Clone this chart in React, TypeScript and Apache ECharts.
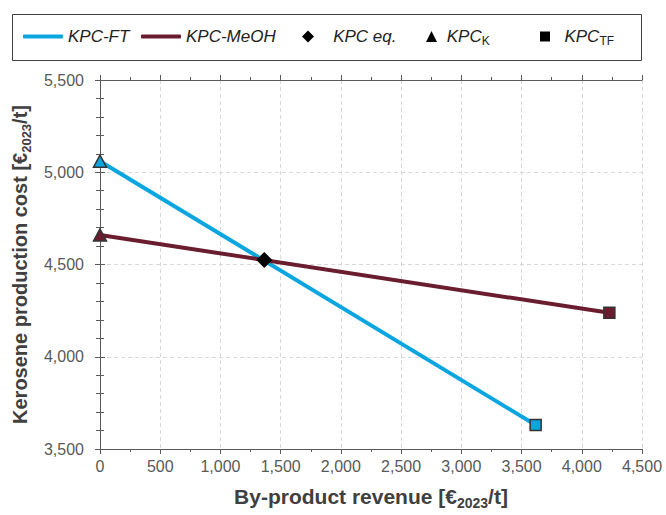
import React, { useEffect, useRef } from "react";
import * as echarts from "echarts";

const BLUE = "#0BA6DF";
const MAROON = "#6A1D2F";

const xTicks = [0, 500, 1000, 1500, 2000, 2500, 3000, 3500, 4000, 4500];
const yTicks = [3500, 4000, 4500, 5000, 5500];

const ftLine: [number, number][] = [[0, 5060], [3617, 3630]];
const meohLine: [number, number][] = [[0, 4660], [4229, 4238]];
const eqPoint: [number, number][] = [[1364, 4525]];
const kPoints: [number, number][] = [[0, 5060], [0, 4660]];
const tfPoints: [number, number][] = [[3617, 3630], [4229, 4238]];

const FONT = "'Liberation Sans', Arial, sans-serif";

export default function App() {
  const ref = useRef<HTMLDivElement>(null);
  useEffect(() => {
    if (!ref.current) return;
    const chart = echarts.init(ref.current, undefined, { renderer: "svg" });
    const axisLine = { show: true, lineStyle: { color: "#595959", width: 1 } };
    const xCommon = {
      type: "value" as const,
      min: xTicks[0],
      max: xTicks[xTicks.length - 1],
      interval: 500,
      axisLine,
      axisTick: { show: true, length: 5, lineStyle: { color: "#595959" } },
      minorTick: { show: true, splitNumber: 2, length: 3, lineStyle: { color: "#595959" } },
    };
    const yCommon = {
      type: "value" as const,
      min: yTicks[0],
      max: yTicks[yTicks.length - 1],
      interval: 500,
      axisLine,
      axisTick: { show: true, length: 5, lineStyle: { color: "#595959" } },
      minorTick: { show: true, splitNumber: 5, length: 4, lineStyle: { color: "#595959" } },
    };
    const legendText = {
      fontFamily: FONT,
      fontSize: 17,
      fontStyle: "italic" as const,
      color: "#222",
      rich: {
        b: { fontFamily: FONT, fontSize: 17, fontStyle: "italic", color: "#222", lineHeight: 20 },
        s: { fontFamily: FONT, fontSize: 12, fontStyle: "normal", color: "#222", verticalAlign: "bottom", lineHeight: 14, padding: [0, 0, 0, 0] },
      },
    };
    const mkLegend = (name: string, left: number, extra: any) => ({
      left,
      top: 28,
      itemGap: 0,
      padding: 0,
      data: [{ name, ...extra.item }],
      itemWidth: extra.w,
      itemHeight: extra.h,
      textStyle: legendText,
      formatter: extra.fmt,
      selectedMode: false,
    });
    const labelFmt = (v: number) => v.toLocaleString("en-US");
    chart.setOption({
      animation: false,
      grid: { left: 100, right: 24, top: 80, bottom: 61 },
      graphic: [
        {
          type: "rect",
          shape: { x: 12.5, y: 14.5, width: 629, height: 46 },
          style: { fill: "none", stroke: "#404040", lineWidth: 1 },
          silent: true,
        },
      ],
      legend: [
        mkLegend("KPC-FT", 23, { w: 40, h: 4, item: { icon: "roundRect", itemStyle: { color: BLUE } }, fmt: "{b|KPC-FT}" }),
        mkLegend("KPC-MeOH", 141, { w: 40, h: 4, item: { icon: "roundRect", itemStyle: { color: MAROON } }, fmt: "{b|KPC-MeOH}" }),
        mkLegend("KPC eq.", 302, { w: 12, h: 12, item: { icon: "diamond", itemStyle: { color: "#000", borderWidth: 0 } }, fmt: "{b|   KPC eq.}" }),
        mkLegend("KPC K", 426, { w: 11, h: 11, item: { icon: "triangle", itemStyle: { color: "#000", borderWidth: 0 } }, fmt: " {b|KPC}{s|K}" }),
        mkLegend("KPC TF", 540, { w: 10, h: 10, item: { icon: "rect", itemStyle: { color: "#000", borderWidth: 0 } }, fmt: "  {b|KPC}{s|TF}" }),
      ],
      xAxis: [
        {
          ...xCommon,
          position: "bottom",
          axisLabel: { margin: 9, fontFamily: FONT, fontSize: 16, color: "#595959", formatter: labelFmt },
          splitLine: { show: true, lineStyle: { color: "#D9D9D9", type: [4, 3], width: 1 } },
          name: "By-product revenue [€{s|2023}/t]",
          nameLocation: "middle",
          nameGap: 37,
          nameTextStyle: {
            fontFamily: FONT,
            fontSize: 21,
            fontWeight: "bold",
            color: "#404040",
            rich: {
              s: { fontFamily: FONT, fontSize: 14, fontWeight: "bold", color: "#404040", verticalAlign: "bottom", padding: [0, 0, -3, 0] },
            },
          },
        },
        { ...xCommon, position: "top", axisLabel: { show: false }, splitLine: { show: false } },
      ],
      yAxis: [
        {
          ...yCommon,
          position: "left",
          axisLabel: { margin: 16, fontFamily: FONT, fontSize: 16, color: "#595959", formatter: labelFmt },
          splitLine: { show: true, lineStyle: { color: "#D9D9D9", type: [4, 3], width: 1 } },
          name: "Kerosene production cost [€{s|2023}/t]",
          nameLocation: "middle",
          nameGap: 58,
          nameTextStyle: {
            fontFamily: FONT,
            fontSize: 20,
            fontWeight: "bold",
            color: "#404040",
            rich: {
              s: { fontFamily: FONT, fontSize: 13, fontWeight: "bold", color: "#404040", verticalAlign: "bottom", padding: [0, 0, -3, 0] },
            },
          },
        },
        { ...yCommon, position: "right", axisLabel: { show: false }, splitLine: { show: false } },
      ],
      series: [
        { name: "KPC-FT", type: "line", data: ftLine, showSymbol: false, lineStyle: { color: BLUE, width: 4 }, itemStyle: { color: BLUE }, z: 2 },
        { name: "KPC-MeOH", type: "line", data: meohLine, showSymbol: false, lineStyle: { color: MAROON, width: 4 }, itemStyle: { color: MAROON }, z: 2 },
        {
          name: "KPC eq.",
          type: "scatter",
          data: eqPoint,
          symbol: "diamond",
          symbolSize: 16,
          clip: false,
          itemStyle: { color: "#000", opacity: 1 },
          z: 4,
        },
        {
          name: "KPC K",
          type: "scatter",
          data: kPoints.map((p, i) => ({ value: p, itemStyle: { color: i === 0 ? BLUE : MAROON } })),
          symbol: "triangle",
          symbolSize: [13, 12],
          clip: false,
          itemStyle: { borderColor: "#333", borderWidth: 1.5, opacity: 1 },
          z: 4,
        },
        {
          name: "KPC TF",
          type: "scatter",
          data: tfPoints.map((p, i) => ({ value: p, itemStyle: { color: i === 0 ? BLUE : MAROON } })),
          symbol: "rect",
          symbolSize: 11,
          clip: false,
          itemStyle: { borderColor: "#333", borderWidth: 1.5, opacity: 1 },
          z: 4,
        },
      ],
    });
    return () => chart.dispose();
  }, []);
  return <div ref={ref} style={{ position: "fixed", left: 0, top: 0, width: 666, height: 515, background: "#fff" }} />;
}
